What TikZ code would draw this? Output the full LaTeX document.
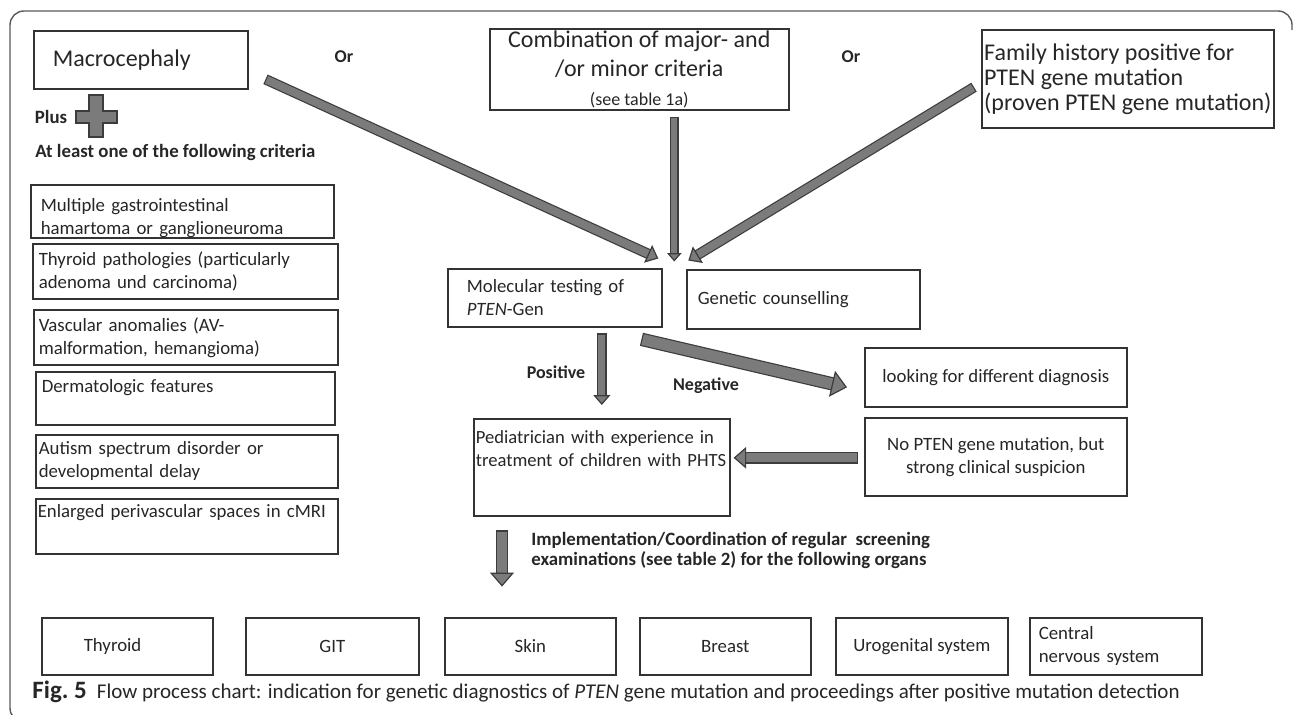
\documentclass[tikz,border=0pt]{standalone}
\usepackage{fontspec}
\setmainfont{Carlito}
\usepackage{tikz}
\usetikzlibrary{calc,arrows.meta}
\definecolor{arrgray}{HTML}{7B7B7B}
\definecolor{arrline}{HTML}{3C3C3C}
\definecolor{boxline}{HTML}{333333}
\definecolor{txt}{HTML}{262626}

\begin{document}
\begin{tikzpicture}[x=0.5pt, y=-0.5pt,
    BOX/.style={draw=boxline, line width=0.8pt, rectangle, anchor=north west, inner ysep=3pt, text=txt, font=\fontsize{9.4}{11.5}\selectfont},
    BIG/.style={BOX, font=\fontsize{12}{14.5}\selectfont},
    LBL/.style={text=txt, inner sep=0pt, font=\bfseries\fontsize{9.4}{10}\selectfont},
    fat/.style={line width=#1, draw=arrgray, -{Triangle[width=0pt 2.4, length=0pt 1.4, color=arrline, fill=arrgray, line width=0.6pt]},
        preaction={draw=arrline, line width=#1+1.2pt, -, shorten >=1.2*#1, shorten <=-0.6pt}}
    ]
    \useasboundingbox (0,0) rectangle (1293,715);
    \draw[draw=black!65, line width=0.7pt, rounded corners=7pt] (1292,30) |- (10,11) -- (10,722) -- (40,722);

    \node[BIG, minimum width=107pt, minimum height=29pt, inner xsep=9.5pt, text width=88pt, align=left] (macro) at (33,30) {Macrocephaly};
    \node[LBL, font=\bfseries\fontsize{9}{10}\selectfont] (or1) at (344,57) {Or};
    \node[BIG, minimum width=149.5pt, minimum height=39.5pt, inner sep=1pt, align=center] (comb) at (489,28) {Combination of major- and\\/or minor criteria\\{\fontsize{9}{10}\selectfont (see table 1a)}};
    \node[LBL, font=\bfseries\fontsize{9}{10}\selectfont] (or2) at (851,57) {Or};
    \node[BIG, minimum width=146pt, minimum height=49pt, inner xsep=0.5pt, align=left, font=\fontsize{12}{12.5}\selectfont] (fam) at (981,29) {Family history positive for\\PTEN gene mutation\\(proven PTEN gene mutation)};

    \node[LBL] (plus) at (51,117) {Plus};
    \filldraw[fill=arrgray, draw=arrline, line width=0.6pt] (89,95) -- (103,95) -- (103,111) -- (117,111) -- (117,123) -- (103,123) -- (103,137) -- (89,137) -- (89,123) -- (76,123) -- (76,111) -- (89,111) -- cycle;
    \node[LBL, anchor=west] (crit) at (35,153) {At least one of the following criteria};

    \node[BOX, minimum width=151.5pt, minimum height=26.5pt, inner xsep=5pt, text width=141.5pt, align=left, text height=10.5pt, text depth=10pt] (c1) at (30,184) {Multiple gastrointestinal\\hamartoma or ganglioneuroma};
    \node[BOX, minimum width=152.5pt, minimum height=27.5pt, inner xsep=3pt, text width=146.5pt, align=left] (c2) at (32,243) {Thyroid pathologies (particularly\\adenoma und carcinoma)};
    \node[BOX, minimum width=152pt, minimum height=27.5pt, inner xsep=2.5pt, text width=147pt, align=left] (c3) at (33,309) {Vascular anomalies (AV-\\malformation, hemangioma)};
    \node[BOX, minimum width=149.5pt, minimum height=26.5pt, inner xsep=3pt, text width=143.5pt, align=left, text height=7.25pt, text depth=13.25pt] (c4) at (35,371) {Dermatologic features};
    \node[BOX, minimum width=151pt, minimum height=26.5pt, inner xsep=1.5pt, text width=148pt, align=left] (c5) at (35,434) {Autism spectrum disorder or\\developmental delay};
    \node[BOX, minimum width=151pt, minimum height=27.5pt, inner xsep=1pt, text width=149pt, align=left, text height=6.5pt, text depth=15pt] (c6) at (35,498) {Enlarged perivascular spaces in cMRI};

    \node[BOX, minimum width=107pt, minimum height=29pt, inner xsep=9.5pt, text width=88pt, align=left] (mol) at (447,268) {Molecular testing of\\\textit{PTEN}-Gen};
    \node[BOX, minimum width=116.5pt, minimum height=29.5pt, inner xsep=5.5pt, text width=105.5pt, align=left] (gen) at (686,269) {Genetic counselling};
    \node[BOX, minimum width=131pt, minimum height=29.5pt, align=center] (look) at (864,347) {looking for different diagnosis};
    \node[BOX, minimum width=131pt, minimum height=39pt, align=center] (nopten) at (864,417) {No PTEN gene mutation, but\\strong clinical suspicion};
    \node[BOX, minimum width=128pt, minimum height=48.5pt, inner xsep=1pt, text width=126pt, align=left, text height=9.25pt, text depth=33.25pt, font=\fontsize{9.3}{11.5}\selectfont] (ped) at (473,418) {Pediatrician with experience in\\\mbox{treatment of children with PHTS}};
    \node[LBL, font=\bfseries\fontsize{9}{10}\selectfont] (pos) at (556,372) {Positive};
    \node[LBL, font=\bfseries\fontsize{9}{10}\selectfont] (neg) at (706,386) {Negative};
    \node[LBL, anchor=west, align=left] (impl) at (531,550) {Implementation/Coordination of regular\ \ screening\\examinations (see table 2) for the following organs};

    \node[BOX, minimum width=85.5pt, minimum height=28.5pt, inner xsep=21pt, text width=43.5pt, align=left] (thy) at (41,617) {Thyroid};
    \node[BOX, minimum width=86.5pt, minimum height=28.5pt, align=center] (git) at (245,617) {GIT};
    \node[BOX, minimum width=85.5pt, minimum height=28.5pt, align=center] (skin) at (444,617) {Skin};
    \node[BOX, minimum width=85.5pt, minimum height=28.5pt, align=center] (breast) at (639,617) {Breast};
    \node[BOX, minimum width=86pt, minimum height=28.5pt, align=center] (uro) at (835,617) {Urogenital system};
    \node[BOX, minimum width=86pt, minimum height=28.5pt, inner xsep=4.5pt, text width=77pt, align=left] (cns) at (1029,617) {Central\\nervous system};

    \node[anchor=west, inner sep=0pt, text=txt, font=\fontsize{10.5}{12}\selectfont] (cap) at (32,692) {{\bfseries\fontsize{12.5}{13}\selectfont Fig.~5}\hspace{5pt}Flow process chart: indication for genetic diagnostics of \textit{PTEN} gene mutation and proceedings after positive mutation detection};

    \coordinate (hub) at ($(mol.north east)!0.5!(gen.north west)$);
    \draw[fat=4pt] ($(macro.east)+(18,20)$) -- ($(hub)+(-16,-10)$);
    \draw[fat=3pt] ($(hub |- comb.south)+(0,7)$) -- ($(hub)+(0,-7)$);
    \draw[fat=4pt] ($(fam.west)+(-8,9)$) -- ($(hub)+(14,-8)$);
    \draw[fat=3.5pt] ($(ped.north |- mol.south)+(0,7)$) -- ($(ped.north)+(0,-13)$);
    \draw[fat=5.5pt] ($(mol.south east)+(-20,12)$) -- ($(look.west)+(-17,10)$);
    \draw[fat=4.5pt] ($(nopten.west)+(-7,1)$) -- ($(ped.east |- nopten.west)+(3,1)$);
    \draw[fat=5pt] ($(ped.south west)+(29,15)$) -- ($(ped.south west)+(29,70)$);
\end{tikzpicture}
\end{document}
